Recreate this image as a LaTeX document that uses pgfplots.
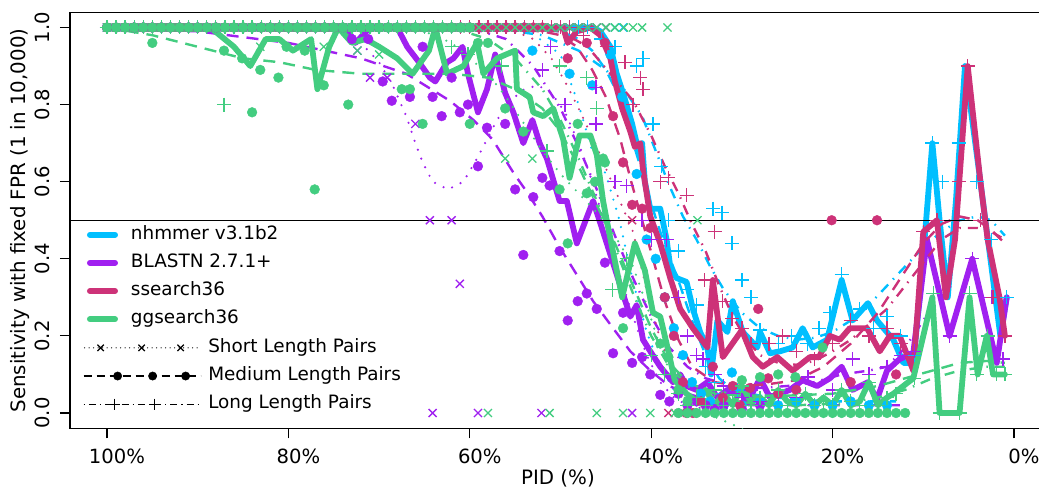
\documentclass[border=0pt]{standalone}
\usepackage{pgfplots}
\pgfplotsset{compat=1.18}
\usepackage{fontspec}
\setmainfont{DejaVu Sans}
\definecolor{nh}{RGB}{0,191,255}
\definecolor{bl}{RGB}{160,32,240}
\definecolor{ss}{RGB}{205,50,120}
\definecolor{gg}{RGB}{67,205,128}
\pgfplotsset{
  thk/.style={line width=5.8pt, line join=round, line cap=round, mark=none},
  fS/.style={line width=2.4pt, line cap=round, dash pattern=on 0pt off 9.5pt, mark=none},
  fM/.style={line width=2.4pt, dash pattern=on 12pt off 8pt, mark=none},
  fL/.style={line width=2.4pt, dash pattern=on 1.5pt off 7pt on 10pt off 7pt, mark=none},
  pS/.style={only marks, mark=x, mark size=5.7pt, line width=1.3pt},
  pM/.style={only marks, mark=*, mark size=4.9pt},
  pL/.style={only marks, mark=+, mark size=7pt, line width=1.3pt},
  frame/.style={scale only axis, width=975pt, height=415.6pt, at={(70pt,59.7pt)}, anchor=south west,
    x dir=reverse, xmin=-3.42, xmax=104.08, ymin=-0.0397, ymax=1.0384},
}
\begin{document}
\begin{tikzpicture}[font=\fontsize{19.6pt}{22pt}\selectfont]
\begin{axis}[frame,
  axis line style={line width=1.2pt}, tick style={line width=1.2pt, black}, major tick length=10pt, tick align=outside,
  tick pos=left,
  xtick={0,20,40,60,80,100}, xticklabels={0\%,20\%,40\%,60\%,80\%,100\%},
  ytick={0,0.2,0.4,0.6,0.8,1}, yticklabels={0.0,0.2,0.4,0.6,0.8,1.0},
  yticklabel style={xshift=-10pt, rotate=90, anchor=south, inner sep=0pt},
  xticklabel style={anchor=north, inner sep=0pt, yshift=-10pt, xshift=10pt},
  xlabel={PID (\%)}, ylabel={Sensitivity with fixed FPR (1 in 10,000)},
  xlabel style={at={(axis description cs:0.5005,0)}, anchor=north, inner sep=0pt, yshift=-40.5pt, font=\fontsize{19.8pt}{22pt}\selectfont},
  ylabel style={at={(axis description cs:-0.0513,0.5)}, anchor=center, inner sep=0pt, font=\fontsize{19.8pt}{22pt}\selectfont},
]
% ===== nhmmer (cyan) =====
\addplot[nh, thk] coordinates {(100,1)(46.5,1)(45.6,.99)(44.5,.95)(43.8,.88)(43.1,.83)(42.1,.75)(41.6,.70)(41.2,.67)(41.0,.70)(40.7,.60)(40.1,.53)(39.0,.53)(38.3,.45)(37.9,.38)(37.2,.35)(36.1,.34)(35.4,.27)(34.6,.21)(33.8,.17)(33.4,.10)(32.7,.24)(31.6,.21)(31.0,.29)(29.9,.21)(28.3,.17)(28.0,.21)(26.9,.155)(25.8,.16)(24.4,.17)(23.3,.22)(22.2,.17)(20.6,.19)(19.0,.345)(17.8,.24)(16.1,.285)(15.1,.24)(13.3,.19)(12.2,.13)(11.1,.13)(10.2,.35)(9.0,.70)(8.2,.50)(7.3,.30)(6.4,.55)(5.4,.90)(3.7,.60)(2.6,.40)(1.5,.20)(0.8,.30)};
\addplot[nh, pS] coordinates {(100,1)(99,1)(98,1)(97,1)(96,1)(95,1)(94,1)(93,1)(92,1)(91,1)(90,1)(89,1)(88,1)(87,1)(86,1)(85,1)(84,1)(83,1)(82,1)(81,1)(80,1)(79,1)(78,1)(77,1)(76,1)(75,1)(74,1)(73,1)(72,1)(71,1)(70,1)(69,1)(68,1)(67,1)(66,1)(65,1)(64,1)(63,1)(62,1)(61,1)(60,1)(59,1)(58,1)(57,1)(56,1)(55,1)(54,1)(53,1)(52,1)(51,1)(50,1)(49,1)(48,1)(47,1)(46,1)(45,1)(44,1)(43.1,1)};
\addplot[nh, pM] coordinates {(100,1)(99,1)(98,1)(97,1)(96,1)(95,1)(94,1)(93,1)(92,1)(91,1)(90,1)(89,1)(88,1)(87,1)(86,1)(85,1)(84,1)(83,1)(82,1)(81,1)(80,1)(79,1)(78,1)(77,1)(76,1)(75,1)(74,1)(73,1)(72,1)(71,1)(70,1)(69,1)(68,1)(67,1)(66,1)(65,1)(64,1)(63,1)(62,1)(61,1)(60,1)(59,1)(58,1)(57,1)(56,1)(55,1)(54,1)(53.1,.94)(49.0,.88)(46.5,.85)(44.5,.93)(43.2,.82)(41.6,.62)(40.5,.45)(39.5,.40)(38.5,.30)(37.5,.22)(36.5,.15)(35.5,.08)(34.5,.05)(33.5,.03)(32,.02)(31.1,.105)(30,.02)(28,.03)(26,.02)(24,.03)(22,.02)(20,.02)(18,.03)(16,.02)(14,.02)};
\addplot[nh, pL] coordinates {(100,1)(99,1)(98,1)(97,1)(96,1)(95,1)(94,1)(93,1)(92,1)(91,1)(90,1)(89,1)(88,1)(87,1)(86,1)(85,1)(84,1)(83,1)(82,1)(81,1)(80,1)(79,1)(78,1)(77,1)(76,1)(75,1)(74,1)(73,1)(72,1)(71,1)(70,1)(69,1)(68,1)(67,1)(66,1)(65,1)(64,1)(63,1)(62,1)(61,1)(60,1)(59,1)(58,1)(57,1)(56,1)(55,1)(54,1)(53,1)(52,1)(51,1)(50,1)(49,1)(48,1)(47,1)(45.5,.97)(44.0,.95)(41.6,.90)(40.9,.92)(39.8,.75)(38.9,.64)(38.1,.50)(37.0,.42)(36,.32)(35,.28)(33.2,.53)(32.2,.52)(31.1,.44)(30.0,.345)(29,.30)(28.0,.215)(26.0,.18)(24.5,.20)(22.8,.18)(21.5,.22)(20.3,.26)(19.0,.36)(17.0,.27)(15.5,.22)(14,.25)(12.5,.20)(11,.15)(9.0,.70)(6.1,.70)(7.9,.60)(4.1,.60)(2.5,.45)(0.8,.30)(34,.12)(33,.08)(32,.05)(30.5,.06)};
\addplot[nh, fS] coordinates {(100,1)(54,1)(50,.93)(48,.80)(46.5,.68)(45,.62)(43.5,.50)(42,.34)(40.5,.21)(39,.12)(37.5,.06)(36,.03)(34,.01)};
\addplot[nh, fM] coordinates {(100,1)(56,1)(50,.99)(48,.97)(46.5,.94)(45,.89)(43.5,.82)(42.5,.74)(41.2,.64)(40.1,.55)(39,.47)(37.9,.40)(36.8,.33)(35.5,.24)(34,.15)(32.5,.09)(31,.06)(28,.045)(24,.035)(20,.03)(16,.03)(13,.03)};
\addplot[nh, fL] coordinates {(100,1)(58,1)(52,.98)(48,.94)(45,.89)(43,.84)(41,.77)(39.5,.68)(38,.59)(36.5,.51)(35,.45)(33.5,.38)(32,.32)(30,.26)(28,.22)(26,.20)(24,.19)(22,.195)(20,.21)(18,.24)(16,.28)(14,.33)(12,.38)(10,.43)(8,.47)(6,.50)(4,.51)(2.5,.50)(1,.46)};
% ===== BLASTN (purple) =====
\addplot[bl, thk] coordinates {(100,1)(74,1)(73.4,.99)(72.6,.96)(71,1.0)(68,1.0)(66.9,.95)(65.6,.91)(64.4,.87)(63.8,.86)(62.5,.91)(61.8,.92)(60.8,.95)(60.2,.88)(59.1,.78)(58.1,.84)(57.2,.93)(56.1,.83)(55.2,.78)(54.1,.70)(53.1,.76)(52.3,.70)(51.5,.66)(50.1,.55)(49.3,.55)(48.2,.44)(46.4,.55)(45.3,.47)(43.4,.33)(42.3,.25)(41.6,.28)(40.9,.19)(40.1,.16)(39.0,.12)(37.6,.08)(36.8,.10)(36.1,.07)(35.0,.06)(33.8,.08)(32.7,.04)(31.6,.06)(30.2,.06)(29.4,.026)(28.0,.09)(26.9,.04)(25.8,.05)(24.7,.06)(23.3,.085)(21.7,.07)(20.3,.09)(19.0,.12)(17.8,.06)(16.1,.08)(15.1,.035)(14.0,.11)(12.6,.14)(11.1,.155)(9.6,.45)(7.1,.20)(4.6,.40)(1.9,.13)(0.8,.30)};
\addplot[bl, pS] coordinates {(100,1)(99,1)(98,1)(97,1)(96,1)(95,1)(94,1)(93,1)(92,1)(91,1)(90,1)(89,1)(88,1)(87,1)(86,1)(85,1)(84,1)(83,1)(82,1)(81,1)(80,1)(79,1)(78,1)(77,1)(76,1)(75,1)(74,1)(72.4,.94)(71.0,.87)(69.1,.87)(66.0,.75)(64.4,.50)(62.0,.50)(61.1,.335)(64.1,0)(59.1,0)(52.1,0)(42.1,0)(36.5,0)(35.5,0)};
\addplot[bl, pM] coordinates {(100,1)(99,1)(98,1)(97,1)(96,1)(95,1)(94,1)(93,1)(92,1)(91,1)(90,1)(89,1)(88,1)(87,1)(86,1)(85,1)(84,1)(83,1)(82,1)(81,1)(80,1)(79,1)(78,1)(77,1)(76,1)(73.0,.97)(71.2,.97)(69.6,.86)(68.6,.81)(66.6,.82)(65.2,.95)(64.1,.82)(63.1,.77)(62,.87)(61.1,.78)(60.2,.80)(59.1,.64)(58.1,.74)(56.1,.75)(55.0,.58)(53.0,.56)(52.0,.61)(51.2,.59)(54.1,.41)(50.1,.42)(49.2,.24)(48.1,.29)(47.1,.31)(46.0,.27)(45.1,.39)(44.2,.155)(43.1,.26)(42.1,.13)(41.0,.145)(40.1,.10)(39.0,.047)(38,.03)(37,.05)(36,.02)(35,.03)(34,.02)(33,.01)(32,.02)(30,.01)(28,.02)};
\addplot[bl, pL] coordinates {(100,1)(99,1)(98,1)(97,1)(96,1)(95,1)(94,1)(93,1)(92,1)(91,1)(90,1)(89,1)(88,1)(87,1)(86,1)(85,1)(84,1)(83,1)(82,1)(81,1)(80,1)(79,1)(78,1)(77,1)(76,1)(75,1)(74,1)(73,1)(72,1)(71,1)(70,1)(69,1)(68,1)(67,1)(66,1)(65,1)(64,1)(63,1)(62,1)(61,1)(60,1)(59,1)(58,1)(57,1)(56,1)(52.0,.89)(51.1,.95)(49.5,.80)(46.1,.845)(46.1,.75)(44,.60)(42.7,.59)(41,.50)(40,.45)(38.3,.45)(37,.30)(36,.20)(35,.15)(34.3,.14)(33,.10)(32,.07)(31,.05)(30,.04)(29,.06)(28,.03)(26,.05)(24,.04)(22.7,.093)(20,.06)(17.8,.14)(16,.10)(14,.12)(12.5,.15)(11,.16)(7.1,.20)(4.6,.40)(1.2,.14)(2.5,.30)};
\addplot[bl, fS] coordinates {(100,1)(80,1)(74,.99)(72,.96)(70,.91)(68.5,.85)(67,.77)(66,.70)(65.2,.65)(64.1,.60)(62.4,.58)(60.7,.60)(59.2,.66)(58.1,.71)(57,.76)(55.5,.81)(54,.84)(52.5,.85)(51,.83)(49.5,.78)(48,.70)(46.5,.60)(45,.48)(43.5,.36)(42,.25)(40.5,.15)(39,.08)(37.5,.04)(36,.02)(34,.01)};
\addplot[bl, fM] coordinates {(100,1)(90,.99)(80,.96)(72,.92)(67,.88)(62.2,.81)(59.6,.76)(57.5,.71)(55.1,.62)(53.6,.57)(52,.51)(50.1,.43)(48.5,.37)(46.4,.29)(44.2,.22)(42.3,.16)(40.1,.11)(38,.07)(36,.05)(33,.03)(30,.02)(25,.02)(20,.02)(15,.02)(12,.02)};
\addplot[bl, fL] coordinates {(100,1)(60,1)(56,.97)(53,.90)(50,.79)(48,.69)(46,.58)(44,.46)(42,.35)(40,.25)(38,.17)(36,.12)(34,.09)(31,.07)(28,.065)(25,.07)(22,.08)(19,.10)(16,.11)(14,.12)(12,.17)(10,.24)(8.5,.29)(7,.33)};
% ===== ssearch36 (magenta) =====
\addplot[ss, thk] coordinates {(100,1)(49.7,1)(49.2,.96)(48.2,.99)(46.7,1.0)(45.6,.98)(44.5,.92)(44.0,.86)(43.2,.79)(42.3,.73)(41.8,.69)(41.2,.70)(40.9,.63)(40.1,.51)(39.0,.44)(37.9,.35)(36.8,.27)(35.4,.22)(33.8,.17)(33.2,.345)(32.1,.145)(30.0,.215)(28.8,.145)(27.7,.12)(26.1,.145)(24.4,.11)(22.5,.145)(21.5,.145)(20.3,.20)(19.2,.19)(18.1,.22)(16.2,.22)(14.8,.16)(13.7,.20)(12.6,.20)(11.1,.11)(10.0,.47)(8.5,.50)(7.5,.30)(6.5,.45)(5.1,.90)(3.7,.60)(2.9,.45)(1.6,.30)(1.0,.20)};
\addplot[ss, pS] coordinates {(100,1)(99,1)(98,1)(97,1)(96,1)(95,1)(94,1)(93,1)(92,1)(91,1)(90,1)(89,1)(88,1)(87,1)(86,1)(85,1)(84,1)(83,1)(82,1)(81,1)(80,1)(79,1)(78,1)(77,1)(76,1)(75,1)(74,1)(73,1)(72,1)(71,1)(70,1)(69,1)(68,1)(67,1)(66,1)(65,1)(64,1)(63,1)(62,1)(61,1)(60,1)(59,1)(58,1)(57,1)(56,1)(55,1)(54,1)(53,1)(52,1)(51,1)(50,1)(49,1)(48,1)(47,1)(46,1)(45,1)(42.1,.50)(38.1,0)(36.8,0)(35.5,0)};
\addplot[ss, pM] coordinates {(100,1)(99,1)(98,1)(97,1)(96,1)(95,1)(94,1)(93,1)(92,1)(91,1)(90,1)(89,1)(88,1)(87,1)(86,1)(85,1)(84,1)(83,1)(82,1)(81,1)(80,1)(79,1)(78,1)(77,1)(76,1)(75,1)(74,1)(73,1)(72,1)(71,1)(70,1)(69,1)(68,1)(67,1)(66,1)(65,1)(64,1)(63,1)(62,1)(61,1)(60,1)(59,1)(58,1)(57,1)(56,1)(55,1)(54,1)(53,1)(52,1)(49.2,.92)(47.1,.96)(45.1,.96)(44.2,.77)(43.1,.65)(42.1,.54)(41.0,.53)(40.1,.48)(38.5,.30)(37.5,.20)(36.5,.08)(36.1,0)(35.4,0)(34.5,.03)(33.2,.12)(32.1,.04)(31,.07)(30.2,.02)(29.1,.065)(28.2,.27)(27.1,.09)(26,.05)(24,.06)(20.1,.50)(15.1,.50)(18,.08)(13,.10)};
\addplot[ss, pL] coordinates {(100,1)(99,1)(98,1)(97,1)(96,1)(95,1)(94,1)(93,1)(92,1)(91,1)(90,1)(89,1)(88,1)(87,1)(86,1)(85,1)(84,1)(83,1)(82,1)(81,1)(80,1)(79,1)(78,1)(77,1)(76,1)(75,1)(74,1)(73,1)(72,1)(71,1)(70,1)(69,1)(68,1)(67,1)(66,1)(65,1)(64,1)(63,1)(62,1)(61,1)(60,1)(59,1)(58,1)(57,1)(56,1)(55,1)(54,1)(53,1)(52,1)(51,1)(50,1)(49,1)(47.5,.98)(44.9,.95)(42.9,.91)(42.0,.80)(41.2,.87)(40.9,.84)(39.0,.60)(38.1,.61)(36.1,.565)(33.0,.47)(34.1,.345)(32.1,.29)(31.1,.245)(30,.22)(29,.18)(27,.18)(25.5,.20)(24,.16)(22,.14)(20,.18)(18,.24)(16,.20)(14,.22)(12.5,.18)(10,.47)(8.5,.50)(6.1,.60)(5.1,.90)(3.7,.50)(1,.20)(2.3,.30)};
\addplot[ss, fS] coordinates {(100,1)(56,1)(53,.97)(51,.92)(49.5,.86)(48,.79)(46,.69)(44,.58)(42,.47)(40.5,.32)(39,.19)(37.5,.10)(36,.05)(34,.02)};
\addplot[ss, fM] coordinates {(100,1)(60,1)(52,.99)(50,.98)(48.2,.95)(46.5,.89)(45,.82)(43.4,.71)(42.2,.60)(41,.50)(39.8,.40)(38.5,.29)(37,.19)(35.5,.12)(33,.08)(30,.07)(27,.075)(24,.085)(21,.12)(18,.18)(15,.26)(12.5,.35)(10,.44)(8,.49)(6,.51)(4,.50)(2.3,.47)(1,.44)};
\addplot[ss, fL] coordinates {(100,1)(55,1)(50,.99)(47,.95)(44.5,.88)(42,.81)(40,.72)(38.5,.64)(37,.57)(35.5,.49)(34,.42)(32.5,.33)(31,.25)(29.5,.19)(28,.15)(26,.13)(24,.125)(22,.135)(20,.16)(18,.19)(16,.23)(14,.27)(12,.33)(10,.39)(8,.45)(6,.48)(4,.48)(2.5,.47)(1,.45)};
% ===== ggsearch36 (green) =====
\addplot[gg, thk] coordinates {(100,1)(88.6,1)(86,.95)(84.2,.90)(82.5,.97)(81,.97)(79.5,.94)(77.5,.97)(76.8,.84)(75.5,.95)(74.5,1.0)(73,.96)(71.5,.97)(70,.95)(68,.92)(66.3,.88)(64.5,.94)(63.8,1.0)(62.5,.88)(60.7,.90)(59.2,.96)(58.5,.88)(57,.92)(55,.94)(54.8,.84)(53.4,.82)(53,.78)(51.9,.77)(50.8,.79)(49.7,.71)(49.0,.61)(47.9,.72)(46.7,.72)(46,.67)(45.3,.55)(44.9,.50)(43.2,.30)(41.8,.44)(40.7,.37)(39.8,.26)(39.0,.25)(38.3,.18)(37.4,.085)(36.1,.05)(35,.03)(34,.06)(33,.02)(32,.05)(31,.02)(30,.07)(29,.03)(28,.04)(27,.02)(26,.06)(25,.03)(24,.02)(23,.05)(22,.02)(21,.04)(20,.02)(19,.06)(18,.02)(17,.03)(16,.08)(15,.02)(14,.04)(13.3,.05)(11.1,.09)(9.0,.30)(8.2,0)(6.0,0)(4.9,.30)(4.0,.10)(3.0,.20)(2.3,.10)(1.0,.10)};
\addplot[gg, pS] coordinates {(100,1)(99,1)(98,1)(97,1)(96,1)(95,1)(94,1)(93,1)(92,1)(91,1)(90,1)(89,1)(88,1)(87,1)(86,1)(85,1)(84,1)(83,1)(82,1)(81,1)(80,1)(79,1)(78,1)(77,1)(76,1)(75,1)(74,1)(73,1)(72,1)(71,1)(70,1)(69,1)(68,1)(67,1)(66,1)(65,1)(64,1)(63,1)(62,1)(61,1)(60,1)(59,1)(58,1)(57,1)(56,1)(55,1)(54,1)(53,1)(52,1)(51,1)(50,1)(49,1)(48,1)(47,1)(46,1)(45,1)(44,1)(43,1)(42,1)(41,1)(38.2,1.0)(83.1,.95)(76.1,.95)(72.4,.94)(70,.93)(56.1,.66)(53.1,.66)(34.9,.50)(58,0)(51.2,0)(46,0)(43.1,0)(40.1,0)(37.4,0)(36.5,0)(35.5,0)(34.5,0)};
\addplot[gg, pM] coordinates {(100,1)(99,1)(98,1)(97,1)(96,1)(95,1)(94,1)(93,1)(92,1)(91,1)(90,1)(89,1)(88,1)(87,1)(86,1)(85,1)(84,1)(83,1)(82,1)(81,1)(80,1)(79,1)(78,1)(77,1)(76,1)(75,1)(74,1)(73,1)(72,1)(71,1)(70,1)(69,1)(68,1)(67,1)(66,1)(65,1)(64,1)(63,1)(62,1)(61,1)(60,1)(95,.96)(87.1,.94)(85.1,.92)(84,.78)(83.1,.89)(81.1,.87)(80.2,.95)(78.2,.94)(77.1,.58)(76.1,.85)(73.4,.80)(67.5,.84)(66.6,.84)(65.2,.75)(60.0,.75)(59.1,.96)(58.0,.96)(56.1,.79)(54.1,.73)(50.1,.58)(49.2,.44)(47.1,.57)(46.2,.60)(45.3,.66)(48.1,.75)(45.1,.65)(43.1,.22)(39.0,.18)(38.1,.145)(37,.06)(36,.03)(37,0)(36,0)(35,0)(34,0)(33,0)(32,0)(31,0)(30,0)(29,0)(28,0)(27,0)(26,0)(25,0)(24,0)(23,0)(22,0)(21,0)(20,0)(19,0)(18,0)(17,0)(16,0)(15,0)(14,0)(13,0)(12,0)(30.0,.085)(28.0,.093)(26.0,.10)(24.1,.093)(21.1,.17)};
\addplot[gg, pL] coordinates {(100,1)(99,1)(98,1)(97,1)(96,1)(95,1)(94,1)(93,1)(92,1)(91,1)(90,1)(89,1)(88,1)(87,1)(86,1)(85,1)(84,1)(83,1)(82,1)(81,1)(80,1)(79,1)(78,1)(77,1)(76,1)(75,1)(74,1)(73,1)(72,1)(71,1)(70,1)(69,1)(68,1)(67,1)(66,1)(65,1)(64,1)(63,1)(62,1)(87.1,.80)(62,.95)(60.2,.93)(56.5,.90)(50.1,.90)(47.1,.87)(46,.79)(51.5,.68)(44.3,.32)(42.7,.40)(40,.15)(38.5,.10)(37,.05)(36,.02)(35,.04)(34,.02)(33,.06)(32,.02)(31,.03)(30,.07)(29,.02)(28,.04)(27,.02)(26,.06)(25,.02)(24,.03)(23,.05)(22,.02)(21,.03)(20,.02)(19,.06)(18,.03)(17,.02)(16,.08)(15,.02)(14,.04)(13,.05)(11,.09)(8.9,.31)(4.9,.31)(8.2,0)(6,0)(4.1,.10)(2.9,.20)(1,.10)(1.9,.10)};
\addplot[gg, fS] coordinates {(100,1)(66,1)(62,.96)(58,.88)(56,.82)(54,.75)(52,.68)(50,.62)(48,.57)(46,.52)(44,.46)(42,.38)(40.5,.28)(39,.17)(37.5,.08)(36,.03)(34,0)(31,-.03)(28,-.065)};
\addplot[gg, fM] coordinates {(100,1)(95,.98)(90,.95)(85,.92)(81,.91)(77,.89)(72,.88)(66,.88)(62,.88)(58,.87)(55,.84)(52,.79)(50,.73)(48,.64)(46,.54)(44,.44)(42,.33)(40,.22)(38,.13)(36,.08)(33,.05)(30,.045)(25,.045)(20,.05)(15,.07)(12,.09)(9,.11)(6,.13)(3,.135)(1,.13)};
\addplot[gg, fL] coordinates {(100,1)(62,1)(58,.97)(55,.92)(52,.84)(50,.76)(48,.66)(46,.55)(44,.43)(42,.31)(40,.20)(38,.12)(36,.07)(33,.04)(29,.025)(24,.02)(19,.025)(15,.04)(12,.06)(9,.09)(6,.11)(3,.12)(1,.12)};
% reference line
\addplot[black, line width=1.2pt] coordinates {(-3.42,0.5)(104.08,0.5)};
\end{axis}
% legend for tools
\begin{axis}[frame, hide axis,
  legend cell align=left,
  legend style={at={(axis description cs:0.01744,0.4862)}, anchor=north west, draw=none, fill=none,
    inner sep=0pt, outer sep=0pt, row sep=10.9pt, column sep=13pt,
    font=\fontsize{18.4pt}{21pt}\selectfont,
    nodes={inner sep=0pt, text height=13.2pt, text depth=4pt}},
]
\addlegendimage{legend image code/.code={\path[draw=none,fill=none] (0pt,-3pt) rectangle (31pt,3pt); \draw[nh, line width=5.8pt, line cap=round] (2.9pt,0pt) -- (28.1pt,0pt);}}
\addlegendentry{nhmmer v3.1b2}
\addlegendimage{legend image code/.code={\path[draw=none,fill=none] (0pt,-3pt) rectangle (31pt,3pt); \draw[bl, line width=5.8pt, line cap=round] (2.9pt,0pt) -- (28.1pt,0pt);}}
\addlegendentry{BLASTN 2.7.1+}
\addlegendimage{legend image code/.code={\path[draw=none,fill=none] (0pt,-3pt) rectangle (31pt,3pt); \draw[ss, line width=5.8pt, line cap=round] (2.9pt,0pt) -- (28.1pt,0pt);}}
\addlegendentry{ssearch36}
\addlegendimage{legend image code/.code={\path[draw=none,fill=none] (0pt,-3pt) rectangle (31pt,3pt); \draw[gg, line width=5.8pt, line cap=round] (2.9pt,0pt) -- (28.1pt,0pt);}}
\addlegendentry{ggsearch36}
\end{axis}
% legend for lengths
\begin{axis}[frame, hide axis,
  legend cell align=left,
  legend style={at={(axis description cs:0.01333,0.2143)}, anchor=north west, draw=none, fill=none,
    inner sep=0pt, outer sep=0pt, row sep=11pt, column sep=7pt,
    font=\fontsize{18.4pt}{21pt}\selectfont,
    nodes={inner sep=0pt, text height=13.2pt, text depth=4pt}},
]
\addlegendimage{legend image code/.code={\path[draw=none,fill=none] (0pt,-6pt) rectangle (117pt,6pt); \draw[black, line width=1.3pt, line cap=round, dash pattern=on 0pt off 4.5pt] (1pt,0pt) -- (117pt,0pt); \draw[black, line width=1.3pt, solid] plot[only marks, mark=x, mark size=4.5pt] coordinates {(17pt,0pt)(58pt,0pt)(97pt,0pt)};}}
\addlegendentry{Short Length Pairs}
\addlegendimage{legend image code/.code={\path[draw=none,fill=none] (0pt,-6pt) rectangle (117pt,6pt); \draw[black, line width=1.3pt, dash pattern=on 8pt off 5pt] (0pt,0pt) -- (117pt,0pt); \draw[black, solid] plot[only marks, mark=*, mark size=4.2pt] coordinates {(34pt,0pt)(69pt,0pt)(102pt,0pt)};}}
\addlegendentry{Medium Length Pairs}
\addlegendimage{legend image code/.code={\path[draw=none,fill=none] (0pt,-6pt) rectangle (117pt,6pt); \draw[black, line width=1.3pt, dash pattern=on 1.3pt off 4pt on 7pt off 4pt] (0pt,0pt) -- (117pt,0pt); \draw[black, line width=1.3pt, solid] plot[only marks, mark=+, mark size=5.5pt] coordinates {(31pt,0pt)(71pt,0pt)};}}
\addlegendentry{Long Length Pairs}
\end{axis}
\pgfresetboundingbox
\useasboundingbox (0pt,0pt) rectangle (1039pt,488pt);
\end{tikzpicture}
\end{document}
